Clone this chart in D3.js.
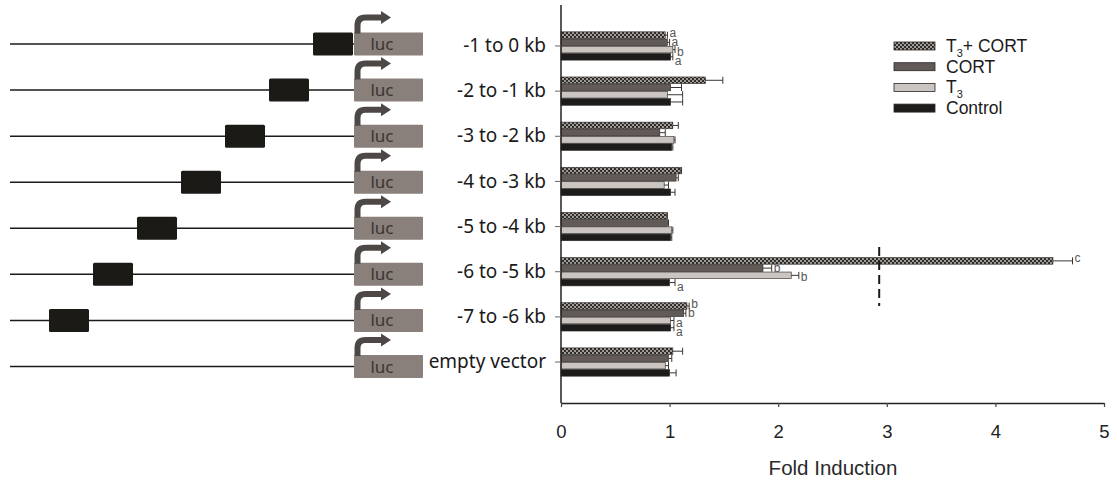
<!DOCTYPE html>
<html lang="en">
<head>
    <meta charset="UTF-8">
    <title>Fold Induction</title>
    <style>
        body { margin: 0; background: #fff; }
        .groupLabel { font-family: "Noto Sans", sans-serif; font-size: 19px; fill: #1a1a1a; }
        .xAxis text { font-family: "Liberation Sans", Arial, sans-serif; font-size: 18.5px; fill: #222; }
        .axisTitle { font-family: "Liberation Sans", Arial, sans-serif; font-size: 20.5px; fill: #2a2a2a; }
        .legend text { font-family: "Liberation Sans", Arial, sans-serif; font-size: 17.5px; fill: #1a1a1a; }
        .letter { font-family: "Liberation Sans", Arial, sans-serif; font-size: 12px; fill: #555; }
        .luc { font-family: "Noto Sans", sans-serif; font-size: 17px; fill: #3a3634; }
    </style>
    <script src="https://d3js.org/d3.v7.min.js"></script>
</head>
<body>
<div class="container"></div>
<script>
    // construct labels (top to bottom)
    const groups = ["-1 to 0 kb", "-2 to -1 kb", "-3 to -2 kb", "-4 to -3 kb",
        "-5 to -4 kb", "-6 to -5 kb", "-7 to -6 kb", "empty vector"];
    // start (kb) of the response element in each construct
    const regionStart = [-1, -2, -3, -4, -5, -6, -7, null];

    const series = ["T3+ CORT", "CORT", "T3", "Control"];

    const t3cort = [0.96, 1.33, 1.03, 1.10, 0.97, 4.53, 1.16, 1.03];
    const t3cortErr = [0.02, 0.16, 0.05, 0.01, 0.01, 0.18, 0.02, 0.09];
    const cort = [0.98, 1.01, 0.91, 1.06, 0.98, 1.86, 1.13, 0.99];
    const cortErr = [0.02, 0.10, 0.05, 0.02, 0.01, 0.08, 0.02, 0.03];
    const t3 = [1.03, 0.98, 1.04, 0.95, 1.02, 2.12, 1.01, 0.96];
    const t3Err = [0.02, 0.14, 0.01, 0.04, 0.01, 0.07, 0.03, 0.03];
    const control = [1.01, 1.01, 1.02, 1.01, 1.01, 1.00, 1.01, 1.00];
    const controlErr = [0.02, 0.11, 0.01, 0.04, 0.01, 0.05, 0.03, 0.06];

    const lettersT3cort = ["a", "", "", "", "", "c", "b", ""];
    const lettersCort = ["a", "", "", "", "", "b", "b", ""];
    const lettersT3 = ["b", "", "", "", "", "b", "a", ""];
    const lettersControl = ["a", "", "", "", "", "a", "a", ""];

    const xTicks = [0, 1, 2, 3, 4, 5];
    const axisBreak = 2.93;

    const values = [t3cort, cort, t3, control];
    const errors = [t3cortErr, cortErr, t3Err, controlErr];
    const letters = [lettersT3cort, lettersCort, lettersT3, lettersControl];
    const fills = ["url(#dots)", "#625a56", "#cbc5c1", "#1e1c1a"];

    const rows = [];
    groups.forEach((g, i) => series.forEach((s, j) => rows.push({
        group: g, series: s, idx: j, value: values[j][i], err: errors[j][i], letter: letters[j][i], fill: fills[j]
    })));

    const width = 1117, height = 480;
    const svg = d3.select(".container").append("svg")
        .attr("width", width).attr("height", height);

    const defs = svg.append("defs");
    const pat = defs.append("pattern").attr("id", "dots")
        .attr("patternUnits", "userSpaceOnUse").attr("width", 4).attr("height", 4);
    pat.append("rect").attr("width", 4).attr("height", 4).attr("fill", "#2f2c2a");
    pat.append("circle").attr("cx", 1).attr("cy", 1).attr("r", 0.95).attr("fill", "#cfcac6");
    pat.append("circle").attr("cx", 3).attr("cy", 3).attr("r", 0.95).attr("fill", "#cfcac6");

    const x = d3.scaleLinear().domain([0, 5]).range([561, 1104]);
    const y = d3.scaleBand().domain(groups).range([23.4, 384.6])
        .paddingInner(0.36).paddingOuter(0.18);
    const ySub = d3.scaleBand().domain(series).range([0, y.bandwidth()]);
    // diagram rows sit on a slightly wider spacing than the bar groups
    const yDiag = d3.scalePoint().domain(groups).range([44, 366.5]);
    const kb = d3.scaleLinear().domain([-7, 0]).range([49, 357]);

    // ---- construct diagrams
    const lucX = 354, lucW = 69, boxH = 23;
    const arrowCol = "#4d4846";
    const diag = svg.append("g").attr("class", "diagram");
    groups.forEach((g, i) => {
        const cy = yDiag(g);
        const row = diag.append("g");
        row.append("line").attr("x1", 10).attr("x2", lucX).attr("y1", cy).attr("y2", cy)
            .attr("stroke", "#1a1a1a").attr("stroke-width", 1.5);
        if (regionStart[i] !== null) {
            row.append("rect").attr("x", kb(regionStart[i])).attr("y", cy - boxH / 2)
                .attr("width", 40).attr("height", boxH).attr("rx", 1.5)
                .attr("fill", "#1c1a17");
        }
        row.append("rect").attr("x", lucX).attr("y", cy - boxH / 2)
            .attr("width", lucW).attr("height", boxH).attr("rx", 1)
            .attr("fill", "#897f7b");
        row.append("text").attr("class", "luc").attr("x", lucX + 28).attr("y", cy + 6)
            .attr("text-anchor", "middle").text("luc");
        const top = cy - boxH / 2;
        const ax = lucX + 3.5, ay = top - 15;
        row.append("path")
            .attr("d", `M${ax},${top + 1} V${ay + 8} Q${ax},${ay} ${ax + 8},${ay} H${lucX + 29}`)
            .attr("fill", "none").attr("stroke", arrowCol).attr("stroke-width", 6);
        row.append("path")
            .attr("d", `M${lucX + 27},${ay - 6.5} L${lucX + 37},${ay} L${lucX + 27},${ay + 6.5} Z`)
            .attr("fill", arrowCol);
    });

    // ---- bars
    const chart = svg.append("g").attr("class", "chart");
    chart.selectAll("rect.bar").data(rows).join("rect")
        .attr("class", "bar")
        .attr("x", x(0))
        .attr("y", d => y(d.group) + ySub(d.series) + 0.3)
        .attr("width", d => x(d.value) - x(0))
        .attr("height", ySub.bandwidth() - 0.6)
        .attr("fill", d => d.fill)
        .attr("stroke", "#2a2624").attr("stroke-width", 0.6);

    // error bars
    const eb = chart.selectAll("g.err").data(rows).join("g").attr("class", "err");
    eb.append("line")
        .attr("x1", d => x(d.value)).attr("x2", d => x(d.value + d.err))
        .attr("y1", d => y(d.group) + ySub(d.series) + ySub.bandwidth() / 2)
        .attr("y2", d => y(d.group) + ySub(d.series) + ySub.bandwidth() / 2)
        .attr("stroke", "#3a3634").attr("stroke-width", 1);
    eb.append("line")
        .attr("x1", d => x(d.value + d.err)).attr("x2", d => x(d.value + d.err))
        .attr("y1", d => y(d.group) + ySub(d.series) + ySub.bandwidth() / 2 - 3.5)
        .attr("y2", d => y(d.group) + ySub(d.series) + ySub.bandwidth() / 2 + 3.5)
        .attr("stroke", "#3a3634").attr("stroke-width", 1);

    // significance letters, fanned out a little so they stay legible
    chart.selectAll("text.letter").data(rows.filter(d => d.letter)).join("text")
        .attr("class", "letter")
        .attr("x", d => x(d.value + d.err) + 2)
        .attr("y", d => y(d.group) + y.bandwidth() / 2 + (d.idx - 1.5) * 9.5 + 5)
        .text(d => d.letter);

    // axis break marker
    svg.append("line")
        .attr("x1", x(axisBreak)).attr("x2", x(axisBreak))
        .attr("y1", 247).attr("y2", 306)
        .attr("stroke", "#1a1a1a").attr("stroke-width", 2)
        .attr("stroke-dasharray", "9,5");

    // ---- axes
    const yAxis = svg.append("g").attr("class", "yAxis")
        .attr("transform", `translate(${x(0)},0)`)
        .call(d3.axisLeft(y).tickSize(6).tickPadding(9).tickSizeOuter(0));
    yAxis.select(".domain").attr("d", "M0,5V403").attr("stroke", "#222").attr("stroke-width", 1.5);
    yAxis.selectAll(".tick line").attr("stroke", "#666");
    yAxis.selectAll(".tick text").attr("class", "groupLabel").attr("fill", null);

    const xAxis = svg.append("g").attr("class", "xAxis")
        .attr("transform", "translate(0,403)")
        .call(d3.axisBottom(x).tickValues(xTicks).tickFormat(d3.format("d"))
            .tickSize(4).tickPadding(18).tickSizeOuter(0));
    xAxis.select(".domain").attr("stroke", "#222").attr("stroke-width", 1.5);
    xAxis.selectAll(".tick line").attr("stroke", "#444").attr("stroke-width", 1.2);
    xAxis.selectAll(".tick text").attr("fill", null);

    svg.append("text").attr("class", "axisTitle")
        .attr("x", 833).attr("y", 475)
        .attr("text-anchor", "middle").text("Fold Induction");

    // ---- legend
    const legend = svg.append("g").attr("class", "legend")
        .attr("transform", "translate(894,46)");
    series.forEach((s, j) => {
        const ly = j * 20.7;
        legend.append("rect").attr("x", 0).attr("y", ly - 4).attr("width", 41).attr("height", 8)
            .attr("fill", fills[j]).attr("stroke", "#2a2624").attr("stroke-width", 0.8);
        const t = legend.append("text").attr("x", 52).attr("y", ly + 6);
        if (s.startsWith("T3")) {
            t.append("tspan").text("T");
            t.append("tspan").attr("font-size", "11px").attr("dy", 5).text("3");
            if (s.length > 2) t.append("tspan").attr("dy", -5).text(s.slice(2));
        } else {
            t.text(s);
        }
    });
</script>
</body>
</html>
